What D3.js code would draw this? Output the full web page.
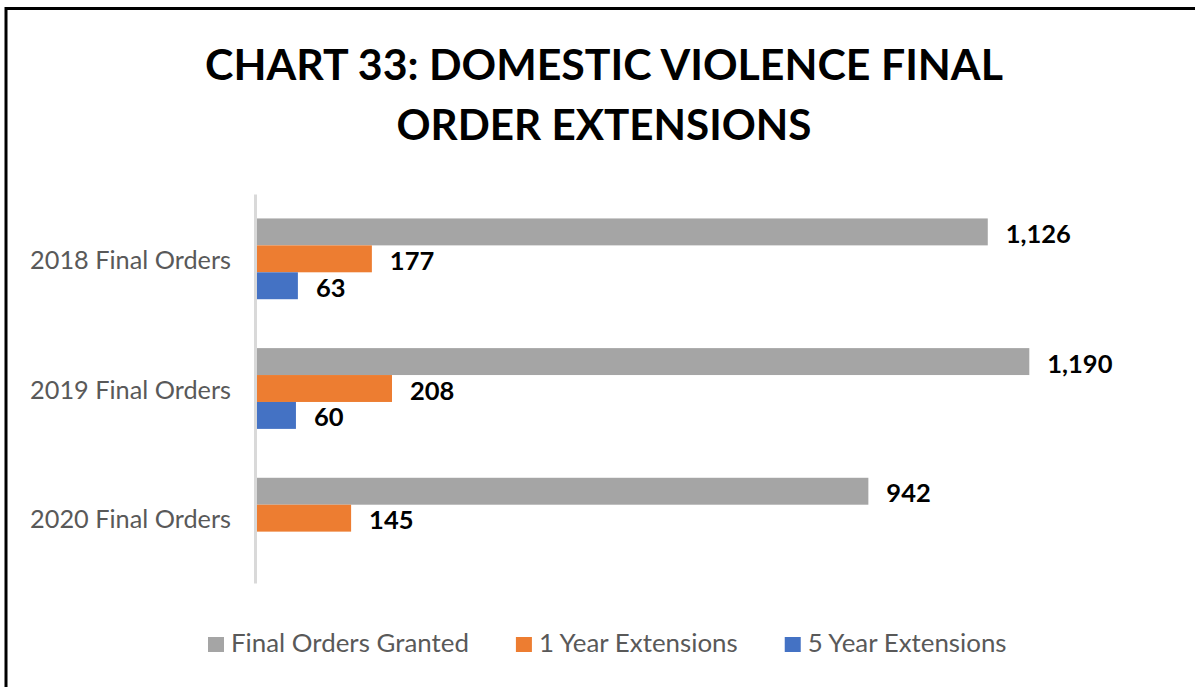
<!DOCTYPE html>
<html>
<head>
<meta charset="utf-8">
<script src="https://cdn.jsdelivr.net/npm/d3@7"></script>
<style>
  html, body { margin: 0; padding: 0; background: #fff; }
  svg { display: block; }
  text { font-family: Lato, "Open Sans", "DejaVu Sans", sans-serif; }
</style>
</head>
<body>
<svg id="chart" width="1195" height="687"></svg>
<script>
const titleLines = ["CHART 33: DOMESTIC VIOLENCE FINAL", "ORDER EXTENSIONS"];
const categories = ["2018 Final Orders", "2019 Final Orders", "2020 Final Orders"];
const seriesNames = ["Final Orders Granted", "1 Year Extensions", "5 Year Extensions"];
const finalOrdersGranted = [1126, 1190, 942];
const oneYearExtensions = [177, 208, 145];
const fiveYearExtensions = [63, 60, null];
const seriesColors = ["#A5A5A5", "#ED7D31", "#4472C4"];

const seriesValues = [finalOrdersGranted, oneYearExtensions, fiveYearExtensions];

const svg = d3.select("#chart");

// outer border (right and bottom edges are off-canvas in the reference)
svg.append("rect")
  .attr("x", 6).attr("y", 8.5).attr("width", 1300).attr("height", 800)
  .attr("fill", "#fff").attr("stroke", "#000").attr("stroke-width", 3);

function fitWidth(sel, target) {
  const fs = parseFloat(sel.attr("font-size"));
  const w = sel.node().getComputedTextLength();
  if (w > 0) sel.attr("font-size", fs * target / w);
  return sel;
}

// Title
const titleBaselines = [80, 140];
const titleWidths = [798, 415];
titleLines.forEach((t, i) => {
  const s = svg.append("text")
    .attr("x", 604).attr("y", titleBaselines[i])
    .attr("text-anchor", "middle")
    .attr("font-weight", "bold")
    .attr("font-size", 48)
    .attr("fill", "#000")
    .text(t);
  fitWidth(s, titleWidths[i]);
});

// Scales
const x = d3.scaleLinear().domain([0, 1400]).range([257, 1165.6]);
const y = d3.scaleBand().domain(categories).range([194, 583])
  .paddingInner(0.377).paddingOuter(0.1885);
const ySub = d3.scaleBand().domain(seriesNames).range([0, y.bandwidth()]);

// Bars
const rows = [];
categories.forEach((c, ci) => {
  seriesNames.forEach((s, si) => {
    rows.push({ cat: c, series: s, si: si, value: seriesValues[si][ci] });
  });
});
const shown = rows.filter(d => d.value != null);

svg.append("g").selectAll("rect")
  .data(shown)
  .join("rect")
  .attr("x", x(0))
  .attr("y", d => y(d.cat) + ySub(d.series))
  .attr("width", d => x(d.value) - x(0))
  .attr("height", ySub.bandwidth())
  .attr("fill", d => seriesColors[d.si]);

// Value labels
svg.append("g").selectAll("text")
  .data(shown)
  .join("text")
  .attr("x", d => x(d.value) + 18)
  .attr("y", d => y(d.cat) + ySub(d.series) + ySub.bandwidth() / 2 + 11)
  .attr("font-weight", "bold")
  .attr("font-size", 25.5)
  .attr("fill", "#000")
  .text(d => d3.format(",")(d.value));

// Vertical category axis
const yAxis = svg.append("g")
  .attr("transform", `translate(${x(0) - 2},0)`)
  .call(d3.axisLeft(y).tickSize(0).tickPadding(24));
yAxis.select(".domain").attr("stroke", "#D9D9D9").attr("stroke-width", 3);
yAxis.selectAll(".tick text")
  .attr("font-family", "Lato, 'Open Sans', sans-serif")
  .attr("font-size", 23)
  .attr("fill", "#595959")
  .attr("dy", "0.4em");
yAxis.selectAll(".tick text").each(function () { fitWidth(d3.select(this), 201); });

// Legend: one font size for all entries, fitted to the first entry's width
const legend = svg.append("g");
const probe = legend.append("text").attr("font-size", 24).text(seriesNames[0]);
fitWidth(probe, 238);
const legendFont = parseFloat(probe.attr("font-size"));
probe.remove();
let lx = 208;
seriesNames.forEach((s, i) => {
  legend.append("rect")
    .attr("x", lx).attr("y", 637).attr("width", 16).attr("height", 15)
    .attr("fill", seriesColors[i]);
  const t = legend.append("text")
    .attr("x", lx + 23).attr("y", 652)
    .attr("font-size", legendFont)
    .attr("fill", "#595959")
    .text(s);
  lx += 23 + t.node().getComputedTextLength() + 47;
});
</script>
</body>
</html>
